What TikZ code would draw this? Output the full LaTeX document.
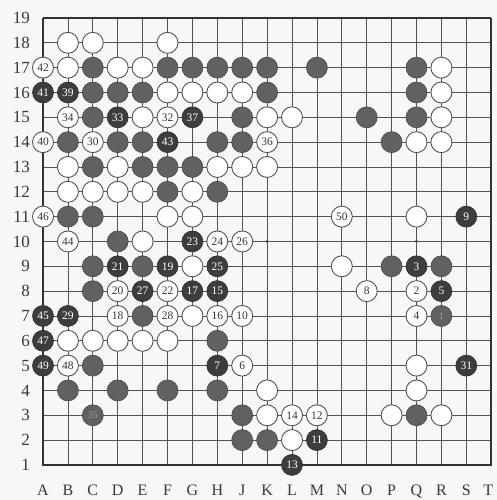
\documentclass[tikz,border=0pt]{standalone}
\usepackage{fontspec}
\setmainfont{Liberation Serif}
\begin{document}
\begin{tikzpicture}[x=1pt,y=1pt,
  gridline/.style={draw=black!68, line width=0.8pt},
  edgeline/.style={draw=black!80, line width=1.8pt},
  stonebase/.style={circle, inner sep=0pt, minimum size=21pt},
  bst/.style={stonebase, fill=black!62, draw=black!72, line width=0.6pt},
  bnum/.style={stonebase, fill=black!76, draw=black!82, line width=0.6pt, text=white, font=\fontsize{11.5}{11.5}\selectfont},
  bfaint/.style={bst, text=black!38, font=\fontsize{10}{10}\selectfont},
  wst/.style={stonebase, fill=white, draw=black!68, line width=0.9pt},
  wnum/.style={wst, text=black!80, font=\fontsize{11.5}{11.5}\selectfont},
  rowlab/.style={anchor=east, inner sep=0pt, text=black!78, font=\fontsize{17}{17}\selectfont},
  collab/.style={anchor=base, inner sep=0pt, text=black!78, font=\fontsize{16}{16}\selectfont},
  hoshi/.style={circle, fill=black!70, inner sep=0pt, minimum size=3.5pt}
]
\fill[black!3] (0,0) rectangle (497,500);
\useasboundingbox (0,0) rectangle (497,500);

% intersections
\foreach \l [count=\i] in {A,B,C,D,E,F,G,H,J,K,L,M,N,O,P,Q,R,S,T}{
  \foreach \r in {1,...,19}{
    \coordinate (\l\r) at ({43+24.9*(\i-1)},{482-24.83*(19-\r)});
  }
}

% grid
\foreach \l in {B,C,D,E,F,G,H,J,K,L,M,N,O,P,Q,R,S}
  \draw[gridline] (\l1) -- (\l19);
\foreach \r in {2,...,18}
  \draw[gridline] (A\r) -- (T\r);
\draw[edgeline, line width=1.3pt] (A19) -- (T19);
\draw[edgeline] (A19) -- (A1) -- (T1) -- (T19);

% star points
\node[hoshi] (hK10) at (K10) {};
\node[hoshi] (hQ10) at (Q10) {};

% labels
\foreach \r in {1,...,19}
  \node[rowlab] (row\r) at ([xshift=-13pt]A\r) {\r};
\foreach \l in {A,B,C,D,E,F,G,H,J,K,L,M,N,O,P,Q,R,S}
  \node[collab] (col\l) at ([yshift=-31pt]\l1) {\l};
\node[collab] (colT) at ([xshift=-3pt,yshift=-31pt]T1) {T};

% plain black stones
\foreach \p in {C17,F17,G17,H17,J17,K17,M17,Q17,
                C16,D16,E16,K16,Q16,
                C15,J15,O15,Q15,
                B14,D14,E14,H14,J14,P14,
                C13,E13,F13,G13,
                F12,H12,
                B11,C11,
                D10,
                C9,E9,P9,R9,
                C8,E7,H6,C5,
                B4,D4,F4,H4,
                J3,Q3,J2,K2}
  \node[bst] (s\p) at (\p) {};

% faint numbered black stones
\node[bfaint] (sC3) at (C3) {35};
\node[bfaint] (sR7) at (R7) {1};

% numbered black stones
\foreach \p/\n in {A16/41,B16/39,D15/33,G15/37,F14/43,S11/9,G10/23,
                   D9/21,F9/19,H9/25,Q9/3,E8/27,G8/17,H8/15,R8/5,
                   A7/45,B7/29,A6/47,A5/49,H5/7,S5/31,M2/11,L1/13}
  \node[bnum] (s\p) at (\p) {\n};

% plain white stones
\foreach \p in {B18,C18,F18,
                B17,D17,E17,R17,
                F16,G16,H16,J16,R16,
                E15,K15,L15,R15,
                Q14,R14,
                B13,D13,H13,J13,K13,
                B12,C12,D12,E12,G12,
                F11,G11,Q11,
                E10,G9,N9,G7,
                B6,C6,D6,E6,F6,
                Q5,K4,Q4,K3,P3,R3,L2}
  \node[wst] (s\p) at (\p) {};

% numbered white stones
\foreach \p/\n in {A17/42,B15/34,F15/32,A14/40,C14/30,K14/36,A11/46,N11/50,
                   B10/44,H10/24,J10/26,D8/20,F8/22,O8/8,Q8/2,D7/18,F7/28,
                   H7/16,J7/10,Q7/4,J5/6,B5/48,L3/14,M3/12}
  \node[wnum] (s\p) at (\p) {\n};
\end{tikzpicture}
\end{document}
